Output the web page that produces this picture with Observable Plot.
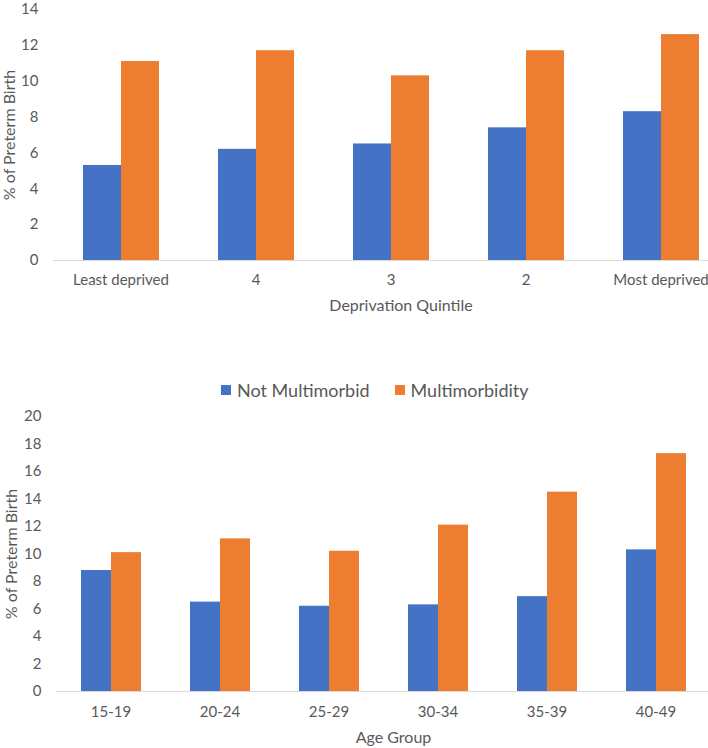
<!DOCTYPE html>
<html><head><meta charset="utf-8">
<script src="https://cdn.jsdelivr.net/npm/d3@7"></script>
<script src="https://cdn.jsdelivr.net/npm/@observablehq/plot@0.6"></script>
<style>
body{margin:0;background:#fff;font-family:Lato, sans-serif;}
#wrap{position:relative;width:708px;height:748px;overflow:hidden;background:#fff;}
.abs{position:absolute;left:0;}
#legend{position:absolute;top:379px;left:221px;display:flex;align-items:center;font-size:18px;color:#595959;white-space:nowrap;}
#legend .item{display:flex;align-items:center;margin-right:25px;}
#legend .sw{width:10px;height:10px;margin-right:6px;}
</style></head><body><div id="wrap"></div>
<script>
const series = ["Not Multimorbid", "Multimorbidity"];
const seriesColors = ["#4472C4", "#ED7D31"];

const quintiles = ["Least deprived", "4", "3", "2", "Most deprived"];
const quintileNotMultimorbid = [5.3, 6.2, 6.5, 7.4, 8.3];
const quintileMultimorbidity = [11.1, 11.7, 10.3, 11.7, 12.6];
const quintileTicks = [0, 2, 4, 6, 8, 10, 12, 14];

const ageGroups = ["15-19", "20-24", "25-29", "30-34", "35-39", "40-49"];
const ageNotMultimorbid = [8.8, 6.5, 6.2, 6.3, 6.9, 10.3];
const ageMultimorbidity = [10.1, 11.1, 10.2, 12.1, 14.5, 17.3];
const ageTicks = [0, 2, 4, 6, 8, 10, 12, 14, 16, 18, 20];

const yTitle = "% of Preterm Birth";
const topXTitle = "Deprivation Quintile";
const bottomXTitle = "Age Group";

function toRows(cats, a, b) {
  return cats.flatMap((c, i) => [
    {cat: c, series: series[0], value: a[i]},
    {cat: c, series: series[1], value: b[i]}
  ]);
}

function chart(o) {
  return Plot.plot({
    width: 708, height: o.height,
    marginTop: o.marginTop, marginBottom: o.marginBottom,
    marginLeft: o.marginLeft, marginRight: o.marginRight,
    style: {fontFamily: "Lato, sans-serif", fontSize: "15px", color: "#595959", background: "transparent", overflow: "visible"},
    fx: {domain: o.cats, range: o.fxRange, padding: 0, axis: null},
    x: {domain: series, paddingInner: 0, paddingOuter: o.pad, axis: null},
    y: {domain: [o.ticks[0], o.ticks[o.ticks.length - 1]], axis: null},
    color: {domain: series, range: seriesColors},
    marks: [
      Plot.barY(o.rows, {fx: "cat", x: "series", y: "value", fill: "series"}),
      Plot.frame({facet: "super", anchor: "bottom", stroke: "#d9d9d9", strokeWidth: 1.2}),
      Plot.axisY({ticks: o.ticks, tickSize: 0, tickPadding: 15, label: null, fill: "#595959"}),
      Plot.axisFx({anchor: "bottom", tickSize: 0, tickPadding: o.tickPadding, label: null, fill: "#595959"}),
      Plot.text([yTitle], {facet: "super", text: d => d, frameAnchor: "left", textAnchor: "middle", rotate: -90, dx: o.yTitleDx, fontSize: 16, fill: "#595959"}),
      Plot.text([o.xTitle], {facet: "super", text: d => d, frameAnchor: "bottom", textAnchor: "middle", dx: o.xTitleDx, dy: o.xTitleDy, fontSize: 16, fill: "#595959"})
    ]
  });
}

const wrap = document.getElementById("wrap");

const topChart = chart({
  cats: quintiles, rows: toRows(quintiles, quintileNotMultimorbid, quintileMultimorbidity),
  ticks: quintileTicks, height: 320, marginTop: 9, marginBottom: 60, marginLeft: 52, marginRight: 0,
  fxRange: [52, 729], pad: 0.76, tickPadding: 14, xTitle: topXTitle,
  yTitleDx: -44, xTitleDx: 10, xTitleDy: 50
});
topChart.classList.add("abs"); topChart.style.top = "0px";
wrap.appendChild(topChart);

const legend = document.createElement("div");
legend.id = "legend";
series.forEach((s, i) => {
  const item = document.createElement("div");
  item.className = "item";
  const sw = document.createElement("span");
  sw.className = "sw"; sw.style.background = seriesColors[i];
  const t = document.createElement("span");
  t.textContent = s;
  item.appendChild(sw); item.appendChild(t);
  legend.appendChild(item);
});
wrap.appendChild(legend);

const bottomChart = chart({
  cats: ageGroups, rows: toRows(ageGroups, ageNotMultimorbid, ageMultimorbidity),
  ticks: ageTicks, height: 348, marginTop: 16, marginBottom: 57, marginLeft: 53, marginRight: 15,
  fxRange: [53, 712], pad: 0.77, tickPadding: 15, xTitle: bottomXTitle,
  yTitleDx: -45, xTitleDx: 10, xTitleDy: 51
});
bottomChart.classList.add("abs"); bottomChart.style.top = "400px";
wrap.appendChild(bottomChart);
</script></body></html>
